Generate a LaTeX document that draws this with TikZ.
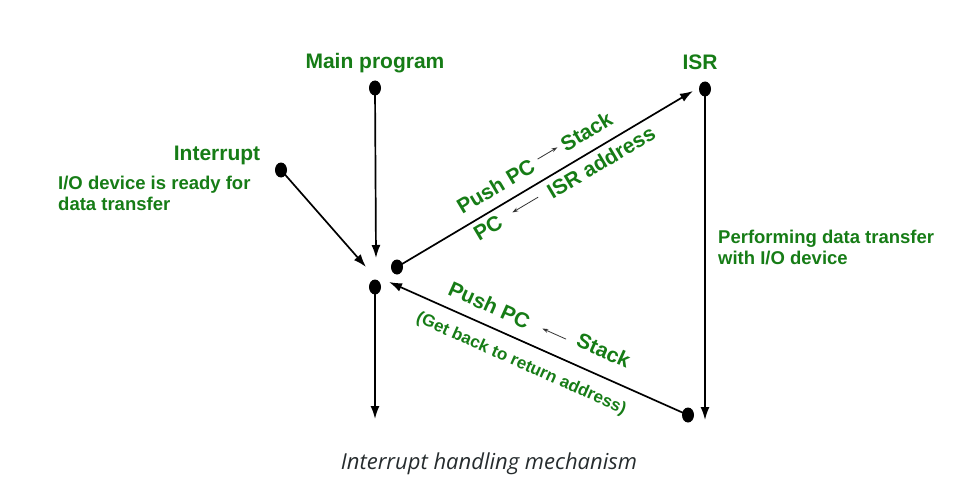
\documentclass[tikz,border=0pt]{standalone}
\usepackage{fontspec}
\setmainfont{Liberation Sans}
\newfontfamily\capfont{Open Sans}
\usetikzlibrary{shapes.geometric,arrows.meta}
\definecolor{lblgreen}{RGB}{22,124,22}
\definecolor{capgray}{RGB}{38,44,46}
\tikzset{
  dot/.style={ellipse, fill=black, minimum width=12pt, minimum height=15pt, inner sep=0pt},
  conn/.style={line width=1.7pt, -{Latex[length=13pt,width=9pt]}},
  small/.style={line width=0.8pt, draw=black!80, -{Stealth[length=6pt,width=4pt]}},
  biglbl/.style={text=lblgreen, font=\fontsize{21}{24}\selectfont\bfseries, inner sep=0pt},
  midlbl/.style={text=lblgreen, font=\fontsize{18.5}{21}\selectfont\bfseries, inner sep=0pt, align=left},
  smlbl/.style={text=lblgreen, font=\fontsize{17}{20}\selectfont\bfseries, inner sep=0pt},
}
\begin{document}
\begin{tikzpicture}[x=1pt,y=-1pt]
\useasboundingbox (0,0) rectangle (966,500);
% dots
\node[dot] (mp) at (375,88) {};
\node[dot] (intd) at (281,170) {};
\node[dot] (a) at (397,267) {};
\node[dot] (b) at (375,287) {};
\node[dot] (isr) at (705,89) {};
\node[dot] (br) at (688,415) {};
% free ends
\coordinate (mpEnd) at (376,258);
\coordinate (intEnd) at (366,267);
\coordinate (isrIn) at (693,91);
\coordinate (bEnd) at (375,419);
\coordinate (isrEnd) at (705,420);
\coordinate (bIn) at (389,282);
% connectors
\draw[conn] (mp.center) -- (mpEnd);
\draw[conn] (intd.center) -- (intEnd);
\draw[conn] (a.center) -- (isrIn);
\draw[conn] (b.center) -- (bEnd);
\draw[conn] (isr.center) -- (isrEnd);
\draw[conn] (br.center) -- (bIn);
% labels
\node[biglbl] (lmp) at (375,63) {Main program};
\node[biglbl] (lisr) at (700,62) {ISR};
\node[biglbl] (lint) at (217,155) {Interrupt};
\node[midlbl, anchor=west] (lio) at (58,193) {I/O device is ready for\\data transfer};
\node[midlbl, anchor=west] (lperf) at (718,247) {Performing data transfer\\with I/O device};
% upper diagonal labels
\begin{scope}[shift={(397,267)}, rotate=30.7, transform shape]
  \node[biglbl] (push1) at (126,-19) {Push PC};
  \node[biglbl] (stack1) at (232,-20) {Stack};
  \coordinate (s1a) at (176,-21);
  \coordinate (s1b) at (199,-21);
  \draw[small] (s1a) -- (s1b);
  \node[biglbl] (pc1) at (98,13) {PC};
  \node[biglbl] (israddr) at (229,14) {ISR address};
  \coordinate (s2a) at (157,12);
  \coordinate (s2b) at (127,12);
  \draw[small] (s2a) -- (s2b);
\end{scope}
% lower diagonal labels
\begin{scope}[shift={(389,282)}, rotate=-24.05, transform shape]
  \node[biglbl] (push2) at (101,-20) {Push PC};
  \node[biglbl] (stack2) at (224,-25) {Stack};
  \coordinate (s3a) at (185,-20);
  \coordinate (s3b) at (159,-20);
  \draw[small] (s3a) -- (s3b);
  \node[smlbl] (getback) at (154,21) {(Get back to return address)};
\end{scope}
% caption
\node[text=capgray, font=\capfont\itshape\fontsize{22}{26}\selectfont, inner sep=0pt] (cap) at (489,464) {Interrupt handling mechanism};
\end{tikzpicture}
\end{document}
